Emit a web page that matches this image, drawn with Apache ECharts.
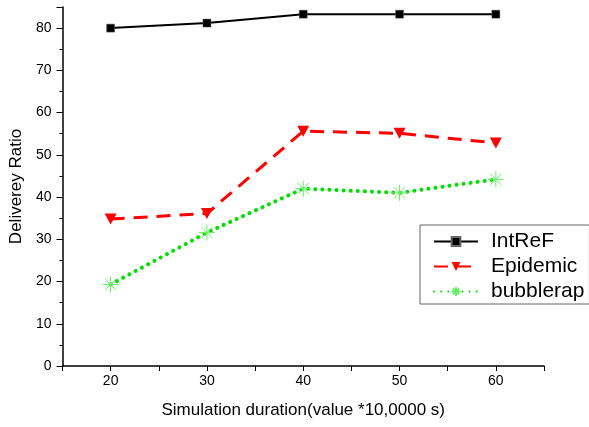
<!DOCTYPE html>
<html>
<head>
<meta charset="utf-8">
<script src="https://cdn.jsdelivr.net/npm/echarts@6/dist/echarts.min.js"></script>
<style>
  html, body { margin: 0; padding: 0; background: #fff; }
  #place { width: 589px; height: 427px; }
</style>
</head>
<body>
<div id="place"></div>
<script>
// values
var durations = [20, 30, 40, 50, 60];
var intref = [80, 81.2, 83.3, 83.3, 83.3];
var epidemic = [34.8, 36.1, 55.6, 55.1, 52.8];
var bubblerap = [19.3, 31.6, 42.0, 41.0, 44.2];

function pairs(vals) {
  return durations.map(function (d, i) { return [d, vals[i]]; });
}

var font = 'Liberation Sans, Arial, sans-serif';
var asterisk = 'path://M0,-10L0,10M-10,0L10,0M-7.07,-7.07L7.07,7.07M-7.07,7.07L7.07,-7.07';

var myChart = echarts.init(document.getElementById('place'));
myChart.setOption({
  animation: false,
  backgroundColor: '#fff',
  grid: { left: 62, right: 45, top: 7, bottom: 61 },
  xAxis: {
    type: 'value',
    min: 15,
    max: 65,
    interval: 5,
    name: 'Simulation duration(value *10,0000 s)',
    nameLocation: 'middle',
    nameGap: 36,
    nameTextStyle: { fontFamily: font, fontSize: 17, color: '#000' },
    axisLine: { lineStyle: { color: '#000', width: 1.5 } },
    axisTick: { inside: false, length: 5, lineStyle: { color: '#000' } },
    axisLabel: {
      margin: 8,
      fontFamily: font, fontSize: 14, color: '#000',
      formatter: function (v) { return v % 10 === 0 ? v : ''; }
    },
    splitLine: { show: false }
  },
  yAxis: {
    type: 'value',
    min: 0,
    max: 85,
    interval: 10,
    name: 'Deliverey Ratio',
    nameLocation: 'middle',
    nameGap: 33,
    nameTextStyle: { fontFamily: font, fontSize: 17, color: '#000' },
    axisLine: { show: true, lineStyle: { color: '#000', width: 1.5 } },
    axisTick: { show: true, length: 6, lineStyle: { color: '#000' } },
    minorTick: { show: true, splitNumber: 2, length: 3, lineStyle: { color: '#000' } },
    axisLabel: { margin: 11, fontFamily: font, fontSize: 14, color: '#000', showMaxLabel: false },
    splitLine: { show: false }
  },
  legend: {
    left: 420,
    top: 225,
    orient: 'vertical',
    backgroundColor: '#fff',
    borderColor: '#666',
    borderWidth: 1,
    borderRadius: 0,
    padding: [6, 5, 2, 13],
    itemWidth: 44,
    itemHeight: 11,
    itemGap: 4,
    textStyle: { fontFamily: font, fontSize: 21, color: '#000', padding: [0, 0, 0, 8] },
    data: ['IntReF', 'Epidemic', 'bubblerap']
  },
  series: [
    {
      name: 'IntReF',
      type: 'line',
      data: pairs(intref),
      symbol: 'rect',
      symbolSize: 8,
      lineStyle: { color: '#000', width: 2 },
      itemStyle: { color: '#000', borderColor: '#666', borderWidth: 0.5 },
      z: 3
    },
    {
      name: 'Epidemic',
      type: 'line',
      data: pairs(epidemic),
      symbol: 'triangle',
      symbolRotate: 180,
      symbolSize: [12, 11],
      lineStyle: { color: '#ff0000', width: 3, type: [14, 9] },
      itemStyle: { color: '#ff0000' },
      z: 2
    },
    {
      name: 'bubblerap',
      type: 'line',
      data: pairs(bubblerap),
      symbol: asterisk,
      symbolSize: 16,
      lineStyle: { color: '#00e000', width: 4, type: [0.1, 7], cap: 'round' },
      itemStyle: { color: 'transparent', borderColor: '#66ee66', borderWidth: 1 },
      z: 1
    }
  ]
});
</script>
</body>
</html>
